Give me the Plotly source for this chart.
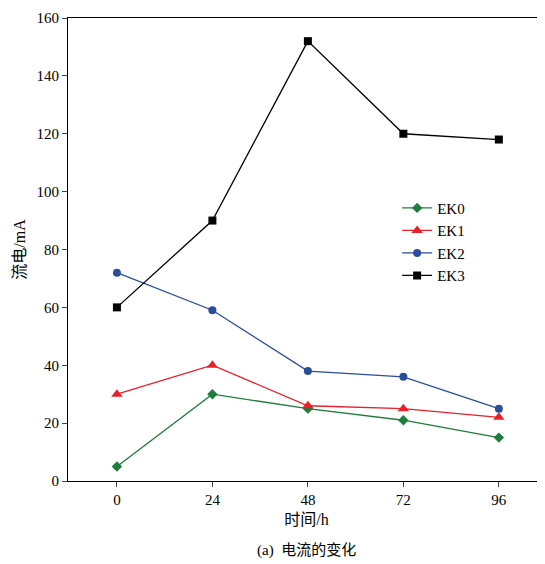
import plotly.graph_objects as go

hours = [0, 24, 48, 72, 96]
ek0 = [5, 30, 25, 21, 15]
ek1 = [30, 40, 26, 25, 22]
ek2 = [72, 59, 38, 36, 25]
ek3 = [60, 90, 152, 120, 118]

series = [
    ("EK0", ek0, "#1e7d3a", "diamond", 8),
    ("EK1", ek1, "#e8202a", "triangle-up", 10),
    ("EK2", ek2, "#2a4d9b", "circle", 8),
    ("EK3", ek3, "#000000", "square", 8),
]

fig = go.Figure()
for name, vals, col, sym, sz in series:
    fig.add_trace(go.Scatter(
        x=hours, y=vals, name=name, mode="lines+markers",
        line=dict(color=col, width=1.3),
        marker=dict(symbol=sym, size=sz, color=col),
    ))

font = "Liberation Serif, Noto Sans CJK SC"
fig.update_layout(
    width=537, height=556,
    margin=dict(l=60, r=0, t=10, b=83, autoexpand=False),
    plot_bgcolor="white", paper_bgcolor="white",
    font=dict(family=font, size=15, color="black"),
    showlegend=True,
    legend=dict(x=0.69, y=0.625, xanchor="left", yanchor="top",
                bgcolor="rgba(0,0,0,0)", font=dict(size=15), tracegroupgap=0),
    annotations=[dict(text="(a)  电流的变化", x=0.5, y=-0.151, xref="paper", yref="paper",
                      showarrow=False, xanchor="center", yanchor="middle", font=dict(size=15))],
)
fig.update_xaxes(range=[-12.3, 107.6], tickvals=hours, showgrid=False, zeroline=False,
                 showline=True, linecolor="black", mirror=True, ticks="outside",
                 ticklen=5, automargin=False,
                 title=dict(text="时间/h", standoff=6, font=dict(size=16)))
fig.update_yaxes(range=[0, 160], dtick=20, showgrid=False, zeroline=False,
                 showline=True, linecolor="black", mirror=True, ticks="outside",
                 ticklen=5, automargin=False,
                 title=dict(text="流电/mA", standoff=6, font=dict(size=16)))

fig.write_html("out.html")
